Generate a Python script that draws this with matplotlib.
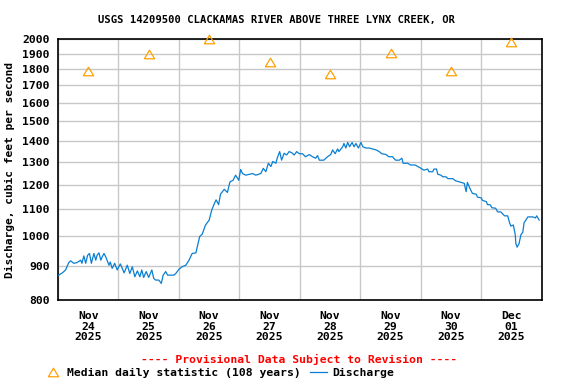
import numpy as np
import pandas as pd
import matplotlib
matplotlib.use("Agg")
import matplotlib.pyplot as plt
from matplotlib.ticker import FixedLocator, FixedFormatter, NullLocator, NullFormatter

# ---------------- data ----------------
title = "USGS 14209500 CLACKAMAS RIVER ABOVE THREE LYNX CREEK, OR"
start = pd.Timestamp("2025-11-24 00:00")
end = pd.Timestamp("2025-12-02 00:00")

median_days = ["2025-11-24", "2025-11-25", "2025-11-26", "2025-11-27",
               "2025-11-28", "2025-11-29", "2025-11-30", "2025-12-01"]
median_values = [1790, 1900, 2000, 1845, 1770, 1905, 1790, 1978]

# hours after 2025-11-24 00:00
q_hours = [0.25, 1.75, 3.0, 4.25, 5.0, 6.25, 7.5, 9.0, 9.5, 10.25, 11.0, 11.75,
           12.5, 13.25, 14.25, 15.0, 15.5, 16.25, 17.0, 17.5, 18.25, 19.0, 20.25,
           20.75, 21.5, 22.5, 23.5, 24.75, 26.25, 27.5, 28.5, 29.5, 30.5, 31.5,
           32.5, 33.25, 34.0, 35.0, 36.0, 37.25, 38.0, 38.75, 40.0, 41.0, 41.75,
           42.75, 43.5, 46.0, 46.75, 48.0,
           49.25, 50.75, 52.0, 53.25, 54.75, 55.25, 56.25, 57.25, 58.5, 60.0,
           61.0, 62.0, 62.75, 63.75, 64.5, 66.0, 67.25, 68.25, 69.5, 70.5, 71.75,
           72.5, 73.25, 74.5, 77.25, 78.5, 80.5, 81.5, 82.5, 83.5, 84.5, 85.25,
           86.5, 87.0, 88.0, 88.75, 89.75, 90.75, 91.75, 92.75, 93.75, 94.75, 95.75,
           97.0, 98.25, 99.75, 101.0, 102.25, 103.0, 103.75, 105.5, 107.0, 108.25,
           109.0, 110.0, 111.0, 111.5, 113.0, 113.5, 114.25, 115.0, 115.75, 116.75,
           117.5, 118.25, 119.25, 120.25, 121.0, 122.25, 123.5, 124.75, 126.25,
           127.5, 128.5, 130.25, 131.25, 132.75, 134.0, 135.5, 136.5, 137.0, 138.75,
           140.0, 141.75, 143.5,
           145.25, 146.75, 147.25, 148.75, 149.25, 150.25, 150.75, 152.0, 152.75,
           154.0, 154.75, 156.75, 157.75, 158.75, 160.0, 161.25, 162.0, 162.5,
           163.5, 164.5, 166.0, 166.5, 168.0, 168.5, 170.0, 170.5, 171.5, 172.25,
           173.75, 174.5, 175.75, 177.25, 178.5, 179.25, 179.75, 180.75, 181.5,
           181.75, 182.25, 183.0, 183.75, 184.5, 185.0, 186.5, 188.5, 189.5, 190.0,
           191.0]
q_values = [873, 880, 889, 912, 918, 910, 912, 920, 910, 934, 910, 936,
            942, 910, 942, 920, 936, 944, 920, 930, 942, 930, 904,
            914, 894, 910, 889, 908, 880, 904, 878, 899, 868, 886,
            868, 889, 866, 884, 866, 889, 863, 858, 858, 848, 873,
            884, 873, 873, 878, 891,
            899, 904, 920, 942, 944, 963, 1000, 1008, 1040, 1059,
            1096, 1121, 1137, 1118, 1160, 1180, 1167, 1211, 1218, 1240, 1218,
            1265, 1247, 1240, 1247, 1240, 1247, 1270, 1255, 1293, 1278, 1301,
            1293, 1316, 1347, 1307, 1339, 1331, 1347, 1342, 1331, 1347, 1337,
            1337, 1323, 1333, 1323, 1316, 1328, 1307, 1307, 1323, 1333,
            1355, 1337, 1360, 1347, 1370, 1386, 1364, 1391, 1370, 1391,
            1370, 1386, 1364, 1391, 1370, 1364, 1364, 1360, 1355,
            1347, 1337, 1333, 1323, 1323, 1307, 1307, 1316, 1293, 1293,
            1285, 1285, 1274,
            1262, 1267, 1255, 1255, 1267, 1267, 1244, 1240, 1233,
            1233, 1225, 1225, 1216, 1213, 1209, 1205, 1170, 1209,
            1184, 1163, 1160, 1148, 1145, 1135, 1130, 1118, 1118, 1106,
            1104, 1090, 1090, 1075, 1075, 1049, 1037, 1041, 1006,
            975, 963, 975, 1006, 1015, 1049, 1071, 1071, 1067, 1075,
            1059]

y_ticks = [800, 900, 1000, 1100, 1200, 1300, 1400, 1500, 1600, 1700, 1800, 1900, 2000]
tick_days = ["2025-11-24", "2025-11-25", "2025-11-26", "2025-11-27",
             "2025-11-28", "2025-11-29", "2025-11-30", "2025-12-01"]
tick_labels = ["Nov\n24\n2025", "Nov\n25\n2025", "Nov\n26\n2025", "Nov\n27\n2025",
               "Nov\n28\n2025", "Nov\n29\n2025", "Nov\n30\n2025", "Dec\n01\n2025"]

# ---------------- plot ----------------
FONT = "DejaVu Sans Mono"
plt.rcParams["font.family"] = [FONT]
plt.rcParams["font.weight"] = "bold"

fig = plt.figure(figsize=(5.76, 3.84), dpi=100)
ax = fig.add_axes([58 / 576, 1 - 300 / 384, (541.7 - 58) / 576, (300 - 39) / 384])

q_times = start + pd.to_timedelta(q_hours, unit="h")
m_times = pd.to_datetime(median_days) + pd.Timedelta(hours=12)

tri = [(-1, -0.83), (0, 0.83), (1, -0.83), (-1, -0.83)]
med_line, = ax.plot(m_times, median_values, linestyle="none", marker=tri,
                    markersize=7.4, markerfacecolor="none",
                    markeredgecolor="#FFA000", markeredgewidth=0.9, zorder=4,
                    clip_on=False)
q_line, = ax.plot(q_times, q_values, color="#0A7FD2", linewidth=0.9, zorder=3)

ax.set_yscale("log")
ax.set_ylim(800, 2000)
ax.set_xlim(start, end)
ax.yaxis.set_major_locator(FixedLocator(y_ticks))
ax.yaxis.set_major_formatter(FixedFormatter([str(v) for v in y_ticks]))
ax.yaxis.set_minor_locator(NullLocator())
ax.yaxis.set_minor_formatter(NullFormatter())

ax.set_xticks(pd.to_datetime(tick_days) + pd.Timedelta(hours=12))
ax.set_xticklabels(tick_labels, linespacing=1.05)
ax.set_xticks(pd.date_range(start, end, freq="D"), minor=True)

ax.tick_params(axis="both", which="both", length=0)
ax.tick_params(axis="y", pad=6, labelsize=8.2)
ax.tick_params(axis="x", pad=8, labelsize=8.2)
for lab in ax.get_xticklabels() + ax.get_yticklabels():
    lab.set_fontweight("bold")

ax.grid(True, which="major", axis="y", color="#C8C8C8", linewidth=1.0)
ax.grid(True, which="minor", axis="x", color="#C8C8C8", linewidth=1.0)
ax.set_axisbelow(True)
for sp in ax.spines.values():
    sp.set_color("black")
    sp.set_linewidth(1.2)

ax.set_ylabel("Discharge, cubic feet per second", fontsize=8.1,
              fontweight="bold")
ax.yaxis.set_label_coords(-42.5 / 483.7, 0.5)

fig.text(276.5 / 576, 1 - 20 / 384, title, ha="center", va="center",
         fontsize=7.6, fontweight="bold")
fig.text(298.7 / 576, 1 - 359 / 384,
         "---- Provisional Data Subject to Revision ----",
         ha="center", va="center", fontsize=8.2, fontweight="bold", color="red")

fig.legend([med_line, q_line],
           ["Median daily statistic (108 years)", "Discharge"],
           loc="center left", bbox_to_anchor=(44 / 576, 1 - 372.7 / 384),
           ncol=2, frameon=False, handlelength=1.5,
           handletextpad=0.5, columnspacing=0.8, borderpad=0, borderaxespad=0,
           numpoints=1, prop={"family": FONT, "weight": "bold", "size": 8.2})

fig.savefig("out.png", dpi=100)
